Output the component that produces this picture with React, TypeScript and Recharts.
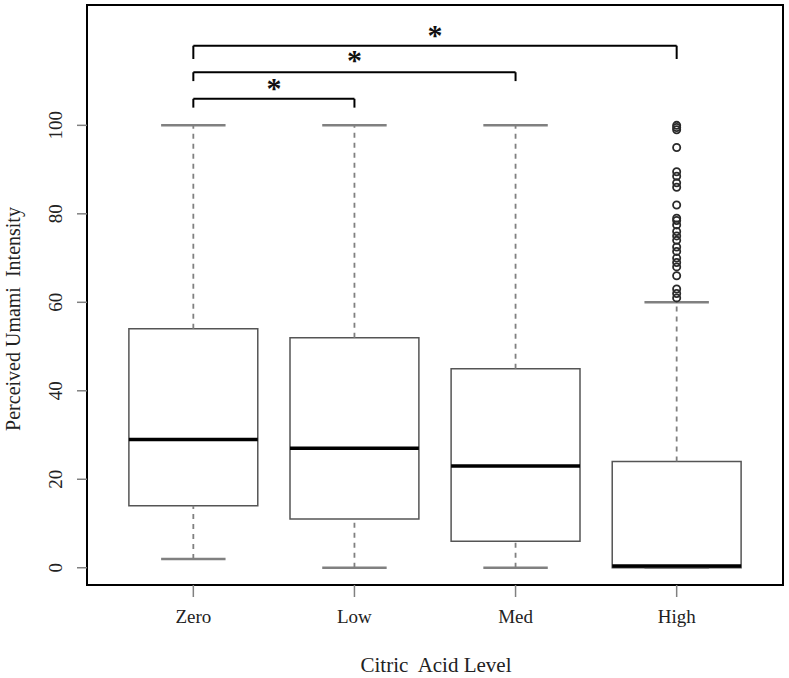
import { ComposedChart, ReferenceArea, ReferenceLine, Scatter, XAxis, YAxis } from "recharts";

const categories = ["Zero", "Low", "Med", "High"];
const lowerWhisker = [2, 0, 0, 0];
const q1 = [14, 11, 6, 0];
const medians = [29, 27, 23, 0.4];
const q3 = [54, 52, 45, 24];
const upperWhisker = [100, 100, 100, 60];
const highOutliers = [
  100, 99.5, 99, 95, 89.5, 88.5, 87, 86, 82, 79, 78.5, 77.5, 76, 75, 74, 72.5, 71.5, 70, 69, 68, 66,
  63, 62, 61,
];
const yTicks = [0, 20, 40, 60, 80, 100];

// significance brackets, all from "Zero"
const bracketTo = [2, 3, 4];
const bracketTop = [106, 112, 118];
const bracketLeg = [104, 110, 115];
const starY = [109.5, 115.8, 121.5];

const X_DOMAIN: [number, number] = [0.34, 4.66];
const Y_DOMAIN: [number, number] = [-3.9, 127.2];
const GRAY = "#808080";
const FONT = "'Liberation Serif', 'Times New Roman', serif";

const outlierData = highOutliers.map((y) => ({ x: 4, y }));
const starData = bracketTo.map((to, i) => ({ x: (1 + to) / 2, y: starY[i] }));

function XTick({ x, payload }: any) {
  return (
    <text x={x} y={623} textAnchor="middle" fontFamily={FONT} fontSize={19} fill="#222">
      {categories[payload.value - 1]}
    </text>
  );
}

function YTick({ y, payload }: any) {
  return (
    <text
      x={62}
      y={y}
      transform={`rotate(-90, 62, ${y})`}
      textAnchor="middle"
      fontFamily={FONT}
      fontSize={19}
      fill="#222"
    >
      {payload.value}
    </text>
  );
}

export default function App() {
  return (
    <div style={{ position: "absolute", left: 0, top: 0, background: "#fff" }}>
      <ComposedChart width={789} height={678} margin={{ top: 5, right: 6, bottom: 0, left: 0 }}>
        <XAxis
          type="number"
          dataKey="x"
          domain={X_DOMAIN}
          ticks={[1, 2, 3, 4]}
          interval={0}
          allowDataOverflow
          height={93}
          axisLine={false}
          tickSize={12}
          tickLine={{ stroke: GRAY, strokeWidth: 1.5 }}
          tick={(p: any) => <XTick {...p} />}
        />
        <YAxis
          type="number"
          dataKey="y"
          domain={Y_DOMAIN}
          ticks={yTicks}
          interval={0}
          allowDataOverflow
          width={87}
          axisLine={false}
          tickSize={10}
          tickLine={{ stroke: GRAY, strokeWidth: 1.5 }}
          tick={(p: any) => <YTick {...p} />}
        />

        {/* plot frame */}
        <ReferenceArea
          x1={X_DOMAIN[0]}
          x2={X_DOMAIN[1]}
          y1={Y_DOMAIN[0]}
          y2={Y_DOMAIN[1]}
          fill="none"
          stroke="#000"
          strokeWidth={2}
          ifOverflow="visible"
        />

        {categories.map((c, i) => {
          const x = i + 1;
          return [
            <ReferenceLine
              key={`wl-${c}`}
              segment={[{ x, y: lowerWhisker[i] }, { x, y: q1[i] }]}
              stroke={GRAY}
              strokeWidth={1.8}
              strokeDasharray="5 5"
            />,
            <ReferenceLine
              key={`wu-${c}`}
              segment={[{ x, y: q3[i] }, { x, y: upperWhisker[i] }]}
              stroke={GRAY}
              strokeWidth={1.8}
              strokeDasharray="5 5"
            />,
            <ReferenceLine
              key={`cl-${c}`}
              segment={[{ x: x - 0.2, y: lowerWhisker[i] }, { x: x + 0.2, y: lowerWhisker[i] }]}
              stroke={GRAY}
              strokeWidth={2.5}
            />,
            <ReferenceLine
              key={`cu-${c}`}
              segment={[{ x: x - 0.2, y: upperWhisker[i] }, { x: x + 0.2, y: upperWhisker[i] }]}
              stroke={GRAY}
              strokeWidth={2.5}
            />,
            <ReferenceArea
              key={`box-${c}`}
              x1={x - 0.4}
              x2={x + 0.4}
              y1={q1[i]}
              y2={q3[i]}
              fill="none"
              stroke="#555"
              strokeWidth={1.5}
            />,
            <ReferenceLine
              key={`med-${c}`}
              segment={[{ x: x - 0.4, y: medians[i] }, { x: x + 0.4, y: medians[i] }]}
              stroke="#000"
              strokeWidth={3.5}
            />,
          ];
        })}

        {bracketTo.map((to, i) => [
          <ReferenceLine
            key={`bl-${to}`}
            segment={[{ x: 1, y: bracketLeg[i] }, { x: 1, y: bracketTop[i] }]}
            stroke="#000"
            strokeWidth={2}
          />,
          <ReferenceLine
            key={`bt-${to}`}
            segment={[{ x: 1, y: bracketTop[i] }, { x: to, y: bracketTop[i] }]}
            stroke="#000"
            strokeWidth={2}
          />,
          <ReferenceLine
            key={`br-${to}`}
            segment={[{ x: to, y: bracketTop[i] }, { x: to, y: bracketLeg[i] }]}
            stroke="#000"
            strokeWidth={2}
          />,
        ])}

        <Scatter
          data={outlierData}
          dataKey="y"
          isAnimationActive={false}
          shape={(p: any) => (
            <circle cx={p.cx} cy={p.cy} r={3.6} fill="none" stroke="#2a2a2a" strokeWidth={1.8} />
          )}
        />
        <Scatter
          data={starData}
          dataKey="y"
          isAnimationActive={false}
          shape={(p: any) => (
            <text
              x={p.cx}
              y={p.cy + 15}
              textAnchor="middle"
              fontFamily={FONT}
              fontWeight="bold"
              fontSize={30}
              fill="#111"
            >
              *
            </text>
          )}
        />

        <text
          x={20}
          y={319}
          transform="rotate(-90, 20, 319)"
          textAnchor="middle"
          fontFamily={FONT}
          fontSize={20}
          fill="#222"
          style={{ whiteSpace: "pre" }}
        >
          {"Perceived Umami  Intensity"}
        </text>
        <text
          x={436}
          y={672}
          textAnchor="middle"
          fontFamily={FONT}
          fontSize={21}
          fill="#222"
          style={{ whiteSpace: "pre" }}
        >
          {"Citric  Acid Level"}
        </text>
      </ComposedChart>
    </div>
  );
}
